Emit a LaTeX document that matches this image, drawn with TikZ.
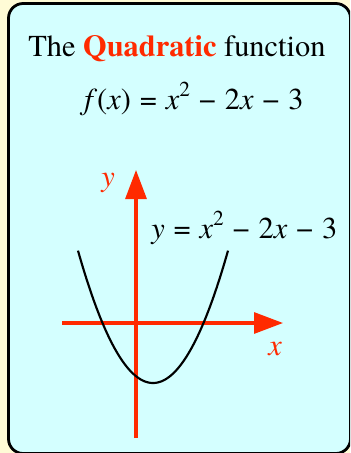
\documentclass[tikz,border=0pt]{standalone}
\usepackage{fontspec}
\setmainfont{texgyretermes-regular.otf}[BoldFont=texgyretermes-bold.otf, ItalicFont=texgyretermes-italic.otf, BoldItalicFont=texgyretermes-bolditalic.otf]
\usetikzlibrary{arrows.meta}
\definecolor{bgyellow}{HTML}{FFFBD6}
\definecolor{boxcyan}{HTML}{D4FFFF}
\definecolor{axred}{HTML}{FF2A00}
\newcommand{\sqtwo}{\raisebox{0.42em}{\fontsize{16pt}{16pt}\selectfont 2}}
\newcommand{\ms}{\hspace{0.29em}}
\begin{document}
\begin{tikzpicture}[x=0.75pt,y=-0.75pt,
  bigtext/.style={font=\fontsize{22.8pt}{27pt}\selectfont, inner sep=0pt},
  axis/.style={draw=axred, line width=2.3pt, -{Triangle[length=21.75pt,width=15.75pt]}},
  axlabel/.style={font=\fontsize{22.8pt}{27pt}\selectfont\itshape, text=axred, inner sep=0pt},
  curve/.style={line width=1.6pt, black}]
\fill[bgyellow] (0,0) rectangle (350,453);
\useasboundingbox (0,0) rectangle (350,453);
\begin{scope}
\clip (0,0) rectangle (350,453);
\draw[line width=2.1pt, fill=boxcyan, rounded corners=11pt] (8.5,3.5) rectangle (350.5,453.5);
\end{scope}
\node[bigtext, anchor=base west] (title) at (28,57) {The \textbf{\color{axred}Quadratic} function};
\node[bigtext, anchor=base west] (fx) at (84,109) {\textit{f}(\textit{x})\ms=\ms\textit{x}\sqtwo\ms−\ms2\textit{x}\ms−\ms3};
\coordinate (yb) at (136,438);
\coordinate (yt) at (136,170);
\coordinate (xl) at (62,323);
\coordinate (xr) at (283,323);
\draw[axis] (yb) -- (yt);
\draw[axis] (xl) -- (xr);
\node[axlabel] (ylab) at (108,183) {y};
\node[axlabel] (xlab) at (275,349) {x};
\draw[curve] plot[domain=78:228, samples=80, smooth] (\x, {383-0.02353*(\x-153)^2});
\node[bigtext, anchor=base west] (eq) at (151,238) {\textit{y}\ms=\ms\textit{x}\sqtwo\ms−\ms2\textit{x}\ms−\ms3};
\end{tikzpicture}
\end{document}
